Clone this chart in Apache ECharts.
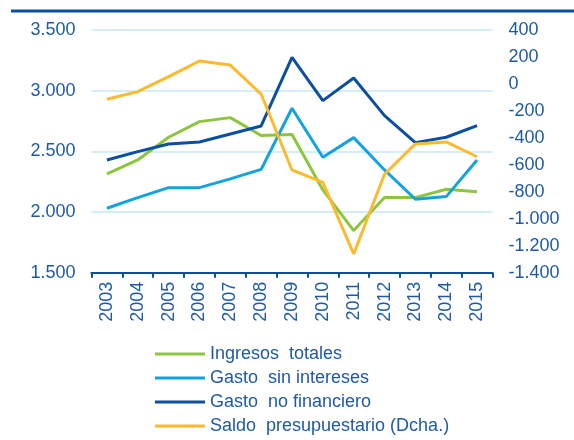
<!DOCTYPE html>
<html>
<head>
<meta charset="utf-8">
<script src="https://cdn.jsdelivr.net/npm/echarts@6/dist/echarts.min.js"></script>
<style>
  html, body { margin: 0; padding: 0; background: #fff; }
  #chart { width: 574px; height: 440px; }
</style>
</head>
<body>
<div id="chart"></div>
<script>
// años
const years = ['2003', '2004', '2005', '2006', '2007', '2008', '2009', '2010', '2011', '2012', '2013', '2014', '2015'];
// eje izquierdo
const ingresosTotales = [2314, 2429, 2616, 2745, 2778, 2630, 2638, 2182, 1847, 2119, 2119, 2188, 2168];
const gastoSinIntereses = [2031, 2119, 2201, 2201, 2273, 2352, 2855, 2451, 2613, 2347, 2105, 2127, 2429];
const gastoNoFinanciero = [2429, 2498, 2561, 2577, 2643, 2709, 3275, 2918, 3105, 2794, 2572, 2616, 2712];
// eje derecho
const saldoPresupuestario = [-114, -57, 54, 170, 140, -75, -638, -730, -1261, -670, -445, -430, -540];

const azulTexto = '#1f5aa6';
const fuente = 'Liberation Sans, Arial, sans-serif';

// formato con punto de miles
function miles(v) {
    const s = String(Math.abs(v)).replace(/\B(?=(\d{3})+(?!\d))/g, '.');
    return (v < 0 ? '-' : '') + s;
}

const chart = echarts.init(document.getElementById('chart'));

chart.setOption({
    animation: false,
    textStyle: { fontFamily: fuente },
    // línea superior
    graphic: [{
        type: 'line',
        shape: { x1: 11, y1: 11, x2: 574, y2: 11 },
        style: { stroke: '#0a4fa0', lineWidth: 3 }
    }],
    grid: { left: 91.5, right: 81.5, top: 30, bottom: 167.3 },
    legend: {
        orient: 'vertical',
        left: 155,
        top: 345,
        padding: 0,
        icon: 'rect',
        itemWidth: 50,
        itemHeight: 3,
        itemGap: 6,
        textStyle: { color: azulTexto, fontSize: 18, fontFamily: fuente },
        data: ['Ingresos  totales', 'Gasto  sin intereses', 'Gasto  no financiero', 'Saldo  presupuestario (Dcha.)']
    },
    xAxis: {
        type: 'category',
        data: years,
        boundaryGap: true,
        axisLine: { onZero: false, lineStyle: { color: '#0a4fa0', width: 2 } },
        axisTick: { show: true, interval: 0, length: 5, lineStyle: { color: '#0a4fa0', width: 2 } },
        axisLabel: { rotate: 90, interval: 0, color: azulTexto, fontSize: 18, margin: 9 }
    },
    yAxis: [{
        type: 'value',
        min: 1500,
        max: 3500,
        interval: 500,
        axisLine: { show: false },
        axisTick: { show: false },
        axisLabel: { color: azulTexto, fontSize: 18, margin: 16, formatter: miles },
        splitLine: { lineStyle: { color: '#d3edf9', width: 2 } }
    }, {
        type: 'value',
        min: -1400,
        max: 400,
        interval: 200,
        axisLine: { show: false },
        axisTick: { show: false },
        axisLabel: { color: azulTexto, fontSize: 18, margin: 16, formatter: miles },
        splitLine: { show: false }
    }],
    series: [{
        name: 'Ingresos  totales',
        type: 'line',
        data: ingresosTotales,
        showSymbol: false,
        lineStyle: { color: '#8cc63e', width: 3 },
        itemStyle: { color: '#8cc63e' }
    }, {
        name: 'Gasto  sin intereses',
        type: 'line',
        data: gastoSinIntereses,
        showSymbol: false,
        lineStyle: { color: '#14a3e2', width: 3 },
        itemStyle: { color: '#14a3e2' }
    }, {
        name: 'Gasto  no financiero',
        type: 'line',
        data: gastoNoFinanciero,
        showSymbol: false,
        lineStyle: { color: '#0b4ea2', width: 3 },
        itemStyle: { color: '#0b4ea2' }
    }, {
        name: 'Saldo  presupuestario (Dcha.)',
        type: 'line',
        yAxisIndex: 1,
        data: saldoPresupuestario,
        showSymbol: false,
        lineStyle: { color: '#fdb930', width: 3 },
        itemStyle: { color: '#fdb930' }
    }]
});
</script>
</body>
</html>
